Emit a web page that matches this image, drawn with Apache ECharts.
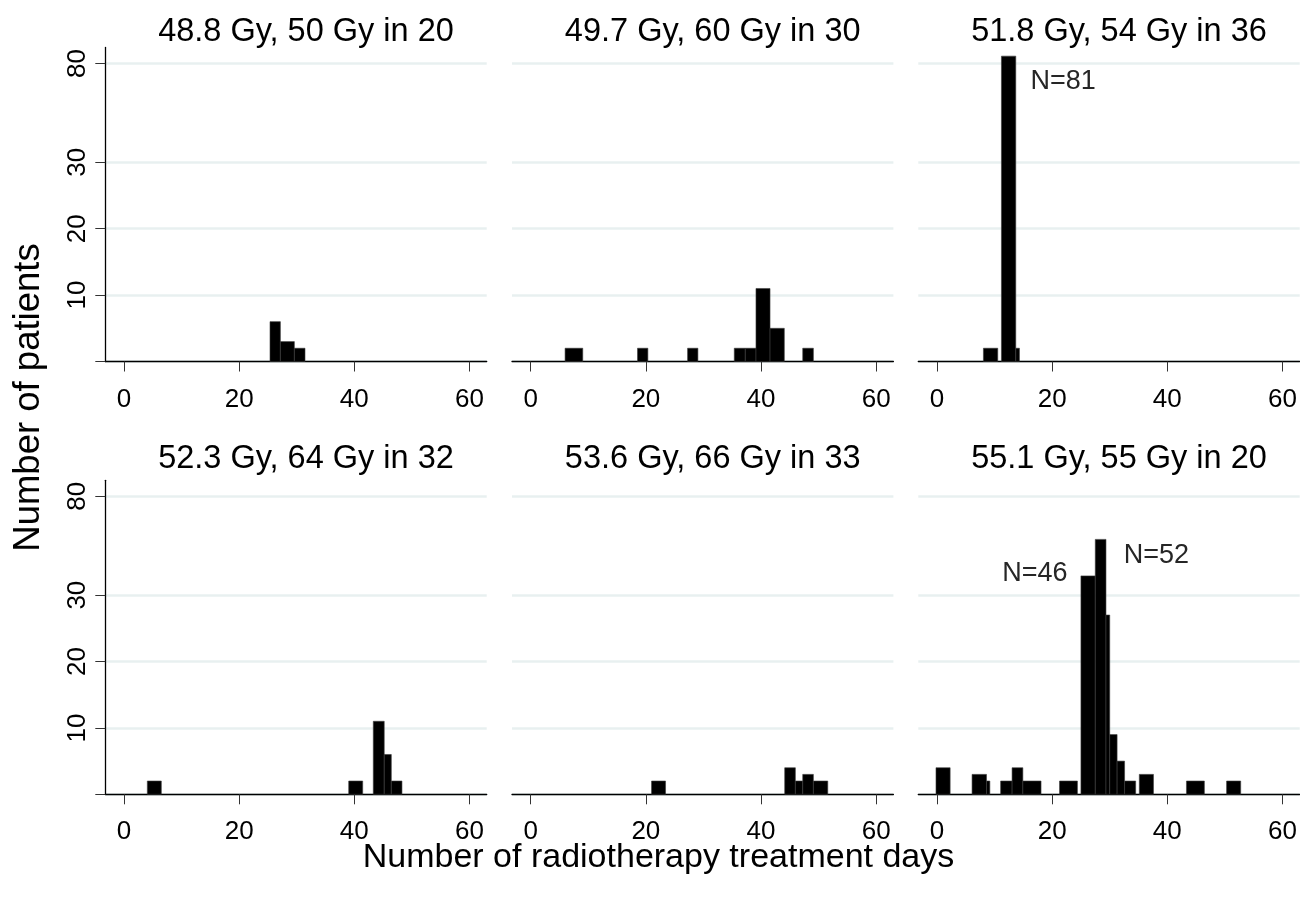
<!DOCTYPE html>
<html><head><meta charset="utf-8">
<script src="https://cdn.jsdelivr.net/npm/echarts@6/dist/echarts.min.js"></script>
<style>html,body{margin:0;padding:0;background:#fff}#c{width:1300px;height:902px}</style>
</head><body><div id="c"></div>
<script>
// ---------------- data ----------------
const panelTitles = ['48.8 Gy, 50 Gy in 20', '49.7 Gy, 60 Gy in 30', '51.8 Gy, 54 Gy in 36',
                     '52.3 Gy, 64 Gy in 32', '53.6 Gy, 66 Gy in 33', '55.1 Gy, 55 Gy in 20'];
const xTickValues = [0, 20, 40, 60];
const yTickValues = [10, 20, 30, 44.9];
const yTickLabels = ['10', '20', '30', '80'];
const xTitle = 'Number of radiotherapy treatment days';
const yTitle = 'Number of patients';

// bars: [bin start (days), bin end (days), number of patients as drawn]
const bars_48_8 = [[25.36, 27.16, 6], [27.16, 29.59, 3], [29.59, 31.44, 2]];
const bars_49_7 = [[5.97, 9.04, 2], [18.55, 20.35, 2], [27.25, 29.04, 2], [35.36, 37.27, 2],
                   [37.27, 39.13, 2], [39.13, 41.57, 11], [41.57, 44.05, 5], [47.25, 49.1, 2]];
const bars_51_8 = [[8.06, 10.55, 2], [11.19, 13.68, 46.0], [13.68, 14.32, 2]];
const bars_52_3 = [[4.05, 6.48, 2], [39.03, 41.46, 2], [43.3, 45.2, 11], [45.2, 46.43, 6], [46.43, 48.28, 2]];
const bars_53_6 = [[20.99, 23.42, 2], [44.12, 45.97, 4], [45.97, 47.25, 2], [47.25, 49.1, 3], [49.1, 51.6, 2]];
const bars_55_1 = [[-0.18, 2.28, 4], [6.09, 8.6, 3], [8.6, 9.18, 2], [11.05, 13.04, 2], [13.04, 14.91, 4],
                   [14.91, 18.07, 2], [21.28, 24.39, 2], [25.0, 27.49, 32.9], [27.49, 29.35, 38.4],
                   [29.35, 30.0, 27], [30.0, 31.28, 9], [31.28, 32.58, 5], [32.58, 34.51, 2],
                   [35.14, 37.6, 3], [43.33, 46.44, 2], [50.3, 52.75, 2]];

// annotations: [x (days), y, text]
const notes_51_8 = [[21.9, 42.2, 'N=81']];
const notes_55_1 = [[17.0, 33.2, 'N=46'], [38.1, 36.0, 'N=52']];

const panelBars = [bars_48_8, bars_49_7, bars_51_8, bars_52_3, bars_53_6, bars_55_1];
const panelNotes = [[], [], notes_51_8, [], [], notes_55_1];

// ---------------- layout ----------------
const FONT = '"Liberation Sans", Arial, Helvetica, sans-serif';
const colLeft = [105.3, 512, 918.3];
const colWidth = 381.4;
const rowTop = [47.5, 480.3];
const rowHeight = 314;
const X_MIN = -3.25, X_MAX = 63;
const Y_MAX = 47.3;

const grids = [], xAxes = [], yAxes = [], series = [], graphics = [];

function yLabel(v) {
  let best = 0, bd = Infinity;
  yTickValues.forEach((t, i) => { const d = Math.abs(t - v); if (d < bd) { bd = d; best = i; } });
  return yTickLabels[best];
}

for (let i = 0; i < 6; i++) {
  const r = Math.floor(i / 3), c = i % 3;
  grids.push({ left: colLeft[c], top: rowTop[r], width: colWidth, height: rowHeight, containLabel: false });
  xAxes.push({
    type: 'value', gridIndex: i, min: X_MIN, max: X_MAX,
    axisLine: { show: true, onZero: false, lineStyle: { color: '#000', width: 1.3 } },
    axisTick: { show: true, customValues: xTickValues, length: 10, lineStyle: { color: '#333', width: 1 } },
    axisLabel: { show: true, customValues: xTickValues, fontSize: 26, color: '#000', fontFamily: FONT, margin: 25 },
    splitLine: { show: false }
  });
  const left = c === 0;
  yAxes.push({
    type: 'value', gridIndex: i, min: 0, max: Y_MAX,
    axisLine: { show: left, onZero: false, lineStyle: { color: '#000', width: 1.3 } },
    axisTick: { show: left, customValues: [0].concat(yTickValues), length: 10, lineStyle: { color: '#333', width: 1 } },
    axisLabel: { show: left, customValues: yTickValues, rotate: 90, fontSize: 26, color: '#000',
                 fontFamily: FONT, margin: 14, formatter: yLabel },
    splitLine: { show: true, lineStyle: { color: '#e8f0f0', width: 2.5 } }
  });
  series.push({
    type: 'custom', xAxisIndex: i, yAxisIndex: i,
    data: panelBars[i],
    encode: { x: [0, 1], y: 2 },
    renderItem: function (params, api) {
      const p0 = api.coord([api.value(0), api.value(2)]);
      const p1 = api.coord([api.value(1), 0]);
      return { type: 'rect',
        shape: { x: p0[0], y: p0[1], width: p1[0] - p0[0], height: p1[1] - p0[1] },
        style: { fill: '#000', stroke: '#3c3c3c', lineWidth: 0.6 } };
    },
    silent: true, animation: false, z: 3
  });
  const notes = panelNotes[i];
  if (notes.length) {
    series.push({
      type: 'custom', xAxisIndex: i, yAxisIndex: i,
      data: notes.map(n => [n[0], n[1]]),
      renderItem: function (params, api) {
        const p = api.coord([api.value(0), api.value(1)]);
        return { type: 'text', x: p[0], y: p[1],
          style: { text: notes[params.dataIndex][2], font: '27px ' + FONT, fill: '#262626',
                   align: 'center', verticalAlign: 'middle', textAlign: 'center', textVerticalAlign: 'middle' } };
      },
      silent: true, animation: false, z: 4
    });
  }
  graphics.push({
    type: 'text', x: colLeft[c] + colWidth / 2 + 10, y: r === 0 ? 31.8 : 459.4,
    style: { text: panelTitles[i], font: '32.5px ' + FONT, fill: '#000',
             align: 'center', verticalAlign: 'middle', textAlign: 'center', textVerticalAlign: 'middle' }
  });
}

graphics.push({
  type: 'text', x: 658.5, y: 858,
  style: { text: xTitle, font: '34px ' + FONT, fill: '#000',
           align: 'center', verticalAlign: 'middle', textAlign: 'center', textVerticalAlign: 'middle' }
});
graphics.push({
  type: 'text', x: 29, y: 397.5, rotation: Math.PI / 2,
  style: { text: yTitle, font: '36.5px ' + FONT, fill: '#000',
           align: 'center', verticalAlign: 'middle', textAlign: 'center', textVerticalAlign: 'middle' }
});

const chart = echarts.init(document.getElementById('c'), null, { renderer: 'canvas' });
chart.setOption({
  backgroundColor: '#fff',
  animation: false,
  grid: grids, xAxis: xAxes, yAxis: yAxes, series: series,
  graphic: { elements: graphics }
});
</script>
</body></html>
